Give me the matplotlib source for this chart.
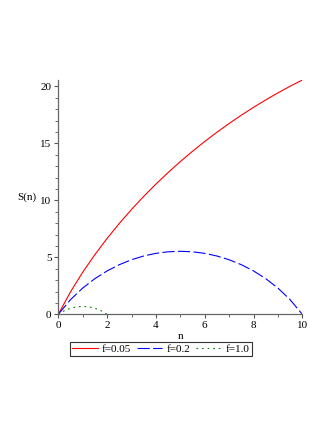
import numpy as np
import matplotlib as mpl
mpl.use('Agg')
import matplotlib.pyplot as plt
from matplotlib.ticker import MultipleLocator

# values
n_half = [0, 0.5, 1, 1.5, 2, 2.5, 3, 3.5, 4, 4.5, 5, 5.5, 6, 6.5, 7, 7.5, 8, 8.5, 9, 9.5, 10]
s_005 = [0, 1.968, 3.689, 5.239, 6.659, 7.974, 9.198, 10.345, 11.423, 12.438, 13.397,
         14.303, 15.161, 15.972, 16.741, 17.469, 18.158, 18.810, 19.427, 20.009, 20.558]
s_02 = [0, 1.285, 2.303, 3.130, 3.807, 4.354, 4.788, 5.116, 5.347, 5.484, 5.529,
        5.484, 5.347, 5.116, 4.788, 4.354, 3.807, 3.130, 2.303, 1.285, 0]
n_q = [0, 0.25, 0.5, 0.75, 1, 1.25, 1.5, 1.75, 2]
s_10 = [0, 0.316, 0.529, 0.653, 0.693, 0.653, 0.529, 0.316, 0]
labels = ["f=0.05", "f=0.2", "f=1.0"]

plt.rcParams['font.family'] = ['Liberation Serif', 'DejaVu Serif']
plt.rcParams['font.size'] = 8

fig = plt.figure(figsize=(3.32, 4.30), dpi=100)
ax = fig.add_axes([58.3/332, 1-314.3/430, 244/332, (314.3-80)/430])

ax.plot(n_half, s_005, color='#ff0000', lw=0.8, label=labels[0])
ax.plot(n_half, s_02, color='#0000ff', lw=0.8, dashes=(11, 3), label=labels[1])
ax.plot(n_q, s_10, color='#008000', lw=0.8, dashes=(1.5, 3.5), label=labels[2])

ax.set_xlim(0, 10)
ax.set_ylim(0, max(s_005))
for s in ['top', 'right']:
    ax.spines[s].set_visible(False)
for s in ['left', 'bottom']:
    ax.spines[s].set_color('#666666')
    ax.spines[s].set_linewidth(0.9)

ax.xaxis.set_major_locator(MultipleLocator(2))
ax.xaxis.set_minor_locator(MultipleLocator(1))
ax.yaxis.set_major_locator(MultipleLocator(5))
ax.yaxis.set_minor_locator(MultipleLocator(1))
ax.tick_params(which='major', length=3, width=0.8, color='#555555', pad=2, labelsize=8)
ax.tick_params(which='minor', length=2.2, width=0.6, color='#555555')

ax.set_xlabel("n", labelpad=1)
ax.set_ylabel("S(n)", rotation=0, ha='center', va='center')
ax.yaxis.set_label_coords(-0.13, 0.5)

leg = fig.legend(loc='center', bbox_to_anchor=(161/332, 1-349/430), ncol=3,
                 frameon=True, fancybox=False, edgecolor='black',
                 handlelength=2.3, handletextpad=0.4, columnspacing=0.5,
                 borderpad=0.2, borderaxespad=0, fontsize=8)
leg.get_frame().set_linewidth(0.8)

plt.savefig("out.png", dpi=100)
